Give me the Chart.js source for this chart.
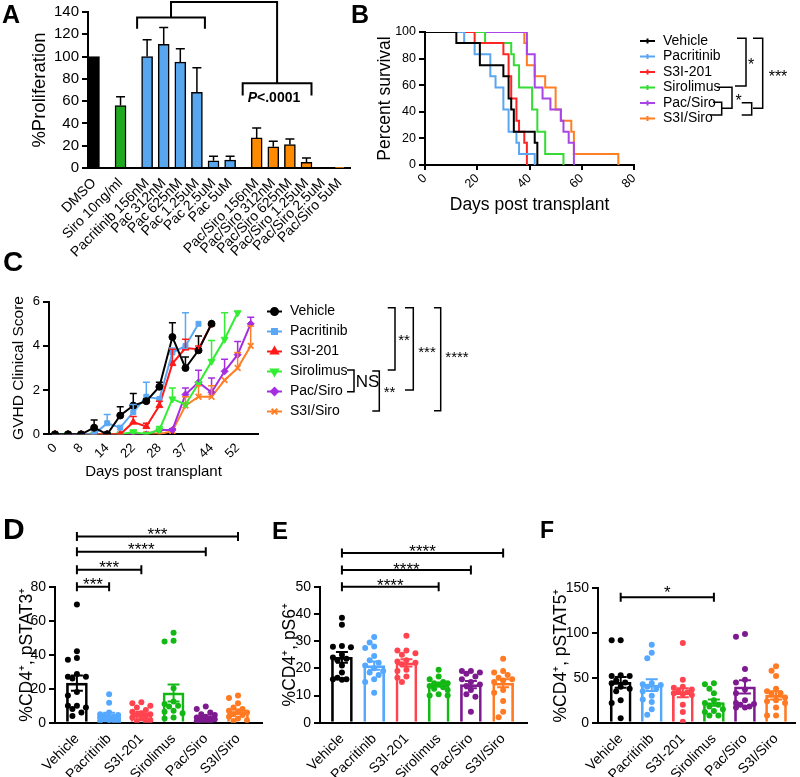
<!DOCTYPE html>
<html><head><meta charset="utf-8">
<script src="https://cdn.jsdelivr.net/npm/chart.js@4.4.1/dist/chart.umd.min.js"></script>
<style>
html,body{margin:0;padding:0;background:#fff;}
#wrap{position:relative;width:800px;height:777px;overflow:hidden;background:#fff;}
#wrap canvas{position:absolute;left:0;top:0;}
.panel-letter{position:absolute;margin:0;font-family:'Liberation Sans',Arial,sans-serif;font-weight:bold;line-height:1;color:#000;}
</style></head><body>
<div id="wrap">
<canvas id="chartA" width="800" height="777"></canvas>
<canvas id="chartB" width="800" height="777"></canvas>
<canvas id="chartC" width="800" height="777"></canvas>
<canvas id="chartD" width="800" height="777"></canvas>
<canvas id="chartE" width="800" height="777"></canvas>
<canvas id="chartF" width="800" height="777"></canvas>
<div class="panel-letter" style="left:2px;top:2px;font-size:25px">A</div>
<div class="panel-letter" style="left:351px;top:2px;font-size:25px">B</div>
<div class="panel-letter" style="left:3px;top:248px;font-size:28px">C</div>
<div class="panel-letter" style="left:3px;top:514px;font-size:30px">D</div>
<div class="panel-letter" style="left:272px;top:519px;font-size:24px">E</div>
<div class="panel-letter" style="left:540px;top:519px;font-size:23px">F</div>
</div>
<script>
// ================= DATA =================
// Panel A: in vitro proliferation
const procCategories = ['DMSO','Siro 10ng/ml','Pacritinib 156nM','Pac 312nM','Pac 625nM','Pac 1.25uM','Pac 2.5uM','Pac 5uM','Pac/Siro 156nM','Pac/Siro 312nM','Pac/Siro 625nM','Pac/Siro 1.25uM','Pac/Siro 2.5uM','Pac/Siro 5uM'];
const procGroup = [0,1,2,2,2,2,2,2,3,3,3,3,3,3];
const procMean = [100,56,100,111,95,68,6.5,7,27,19,21,5,0,0.3];
const procErr = [0,8,15,15,12,22,4,3.5,9,5,5,4,0,0];
const procGroupColors = ['#000000','#1fa91f','#58a6ee','#ff8a00'];

// Panel B: survival (Kaplan-Meier steps)
const survNames = ['Vehicle','Pacritinib','S3I-201','Sirolimus','Pac/Siro','S3I/Siro'];
const survColors = ['#000000','#5aa6f0','#ff2424','#35dc35','#a845e6','#ff7f24'];
const survVehicleDay = [0,12,21,30,32,33,34,42,43];
const survVehiclePct = [100,91.7,75,66.7,50,41.7,25,16.7,0];
const survPacDay = [0,15,19,25,27,30,32,35,36,42];
const survPacPct = [100,91.7,83.3,66.7,58.3,41.7,25,16.7,8.3,0];
const survS3IDay = [0,19,30,32,33,35,36,38,39];
const survS3IPct = [100,91.7,83.3,66.7,50,33.3,25,16.7,0];
const survSiroDay = [0,23,33,34,36,41,43,46,53];
const survSiroPct = [100,91.7,83.3,75,58.3,41.7,25,8.3,0];
const survPacSiroDay = [0,39,42,45,48,52,53,55,57];
const survPacSiroPct = [100,83.3,58.3,50,41.7,33.3,25,16.7,0];
const survS3ISiroDay = [0,38,39,42,46,50,52,56,57,74];
const survS3ISiroPct = [100,91.7,75,66.7,58.3,41.7,33.3,25,8.3,0];

// Panel C: GVHD clinical score
const gvhdDays = [0,4,8,11,14,18,22,25,28,32,37,40,44,48,52,55];
const gvhdVehicle     = [0,0,0,0.3,0,0.85,1.3,1.5,2.15,4.4,3.0,3.8,5.0];
const gvhdVehicleErr  = [0,0,0,0.35,0,0.4,0.55,0.1,0.2,0.65,0.5,0.65,0];
const gvhdPac         = [0,0,0,0,0.5,0.3,1.0,1.7,1.6,3.7,4.0,5.0];
const gvhdPacErr      = [0,0,0,0,0.4,0,0.35,0.65,0,0.2,1.5,0];
const gvhdS3I         = [0,0,0,0,0,0,0.55,0.35,1.3,3.2,3.9,3.85,5.0];
const gvhdS3IErr      = [0,0,0,0,0,0,0.25,0.15,0.2,0.65,0.4,0.15,0];
const gvhdSiro        = [0,0,0,0,0,0,0.1,0,0.2,1.6,1.35,2.3,3.3,4.3,5.5];
const gvhdSiroErr     = [0,0,0,0,0,0,0.1,0,0.15,0.5,0,0,0.95,1.2,0];
const gvhdPacSiro     = [0,0,0,0,0,0,0,0,0.2,0.2,1.8,2.35,1.9,2.85,3.6,5.0];
const gvhdPacSiroErr  = [0,0,0,0,0,0,0,0,0,0.05,0.3,0.55,0.65,0.55,0.6,0.3];
const gvhdS3ISiro     = [0,0,0,0,0,0,0,0,0,0.15,1.3,1.7,1.7,2.45,3.0,4.0];
const gvhdS3ISiroErr  = [0,0,0,0,0,0,0,0,0,0,0.4,0.5,0.5,0,0.7,0.9];
const gvhdColors = ['#000000','#5aa8f5','#ff1a1a','#33ee33','#a52ee0','#ff7f27'];

// Panels D-F: flow cytometry
const treatGroups = ['Vehicle','Pacritinib','S3I-201','Sirolimus','Pac/Siro','S3I/Siro'];
const treatColors = ['#000000','#55a8ff','#ff4450','#14b814','#7e1a90','#ff7a22'];

const stat3Mean = [23.3,4.5,5.5,17.5,3,6.5];
const stat3Sem  = [4.5,1.3,1.0,5.0,0.7,1.3];
const stat3Vehicle   = [69.6,42,38,37,28.6,27,27,26,18,16,10,10,9,8,6,4];
const stat3Pac       = [16.7,11.8,6,5,4.5,4,3.5,3,3,2.5,2,1.5,1.5,1,0.5];
const stat3S3I       = [12,11.5,10,9,7.5,6.5,5.5,5,4.5,3.5,3,2.5,1.5,1,0.5];
const stat3Siro      = [52.9,48.2,47.8,20.2,12.5,11,10,9.5,7,6.5,5.5,3,2.5];
const stat3PacSiro   = [9.5,8,6,5,4.5,3.5,3,2.5,2,2,1.5,1,0.5,0.5];
const stat3S3ISiro   = [16,14.5,11.5,9,8,7,6.5,6,5,4.5,3.5,2.5,1.5,1];

const s6Mean = [24,21,22,14,14,14.5];
const s6Sem  = [2,1.5,1.3,0.7,1.3,1.5];
const s6Vehicle  = [38.6,36,28.2,27.9,27.7,25,24,23.5,23,21,18.5,16.5,16,16,15.8];
const s6Pac      = [31.5,29.5,28,27.5,24.5,23,22,21,20,19,18.5,17.5,16,15,11];
const s6S3I      = [32,26.5,26.5,25.5,25,23,22.5,22,21.5,19.5,19,17,16.5,15];
const s6Siro     = [19.5,17,16,15,14.5,14.5,14,13.5,13,12.5,12,10.5,10,10];
const s6PacSiro  = [19,19,18.5,18,17,16,15,14,13.5,12,10.5,9.5,4];
const s6S3ISiro  = [23.5,19,18.5,17.5,16.5,16,15.5,15,12,11,8,4,2];

const stat5Mean = [45,42,33.5,22.5,40,30.5];
const stat5Sem  = [6,6.5,5,3.5,7.5,4.5];
const stat5Vehicle  = [92,92,53,52,52,47,45,44,40,38,35,25,22,5];
const stat5Pac      = [87,78,72,44,43,42,40,38,35,30,26,23,15,9];
const stat5S3I      = [89,48,40,39,37,35,34,33,32,31,20,12,1];
const stat5Siro     = [44,43,38,33,25,22,20,18,15,13,12,8,8];
const stat5PacSiro  = [99,96,60,48,45,37,33,25,22,21,20,18,17,17];
const stat5S3ISiro  = [63,58,52,38,35,33,32,28,25,24,22,17,8,8];

// ================= SETUP =================
const FONT = "'Liberation Sans', Arial, sans-serif";
Chart.defaults.font.family = FONT;
Chart.defaults.color = '#000';
Chart.defaults.animation = false;
Chart.defaults.events = [];
Chart.defaults.plugins.legend.display = false;
Chart.defaults.plugins.tooltip.enabled = false;

function frame(area, yTitleX, yTitleSize, xTitleY, xTitleSize, xAxisH) {
  const yLeft = yTitleX - 4 - yTitleSize * 1.2 / 2;
  const xBottom = (xTitleY != null) ? xTitleY + 4 + xTitleSize * 1.2 / 2 : area.b + xAxisH;
  return {
    padding: {left: yLeft, top: area.t, right: 800 - area.r, bottom: 777 - xBottom},
    yWidth: area.l - yLeft,
    xHeight: xBottom - area.b
  };
}
function yAxis(fr, o) {
  return {
    type: 'linear', position: 'left', min: o.min, max: o.max,
    ticks: {stepSize: o.step, font: {size: o.tick}, color: '#000', padding: 3},
    grid: {display: true, drawOnChartArea: false, drawTicks: true, tickLength: 6, color: '#000', lineWidth: 2},
    border: {display: true, color: '#000', width: 2},
    title: {display: true, text: o.title, font: {size: o.titleSize}, color: '#000', padding: {top: 4, bottom: 4}},
    afterFit(s) { s.width = fr.yWidth; }
  };
}
function xAxis(fr, o) {
  const ax = {
    type: 'linear', position: 'bottom', min: o.min, max: o.max, offset: false,
    ticks: {autoSkip: false, minRotation: 45, maxRotation: 45, font: {size: o.tick}, color: '#000', padding: o.pad != null ? o.pad : 2},
    grid: {display: !!o.marks, drawOnChartArea: false, drawTicks: true, tickLength: 5, color: '#000', lineWidth: 2, offset: false},
    border: {display: true, color: '#000', width: 2},
    title: {display: !!o.title, text: o.title || '', font: {size: o.titleSize || 15}, color: '#000', padding: {top: 4, bottom: 4}},
    afterFit(s) { s.height = fr.xHeight; }
  };
  if (o.step) ax.ticks.stepSize = o.step;
  if (o.label) ax.ticks.callback = o.label;
  if (o.tickValues) ax.afterBuildTicks = (s) => { s.ticks = o.tickValues.map(v => ({value: v})); };
  return ax;
}
function starText(ctx, text, x, baseline, size) {
  ctx.font = size + 'px ' + FONT;
  ctx.textAlign = 'center';
  ctx.textBaseline = 'alphabetic';
  ctx.fillText(text, x, baseline);
}
function polyline(ctx, pts) {
  ctx.beginPath();
  ctx.moveTo(pts[0][0], pts[0][1]);
  for (let i = 1; i < pts.length; i++) ctx.lineTo(pts[i][0], pts[i][1]);
  ctx.stroke();
}

// ================= PANEL A =================
(function () {
  const fr = frame({l: 88, t: 11, r: 350, b: 168}, 40, 18.5, null, 0, 95);
  const procPos = procCategories.map((_, i) => i + procGroup[i] * 0.6);
  const plugin = {
    id: 'procExtras',
    afterDatasetsDraw(chart) {
      const {ctx} = chart, x = chart.scales.x, y = chart.scales.y;
      ctx.save();
      ctx.strokeStyle = '#000'; ctx.fillStyle = '#000'; ctx.lineWidth = 1.5;
      procMean.forEach((m, i) => {
        const e = procErr[i]; if (!e) return;
        const px = x.getPixelForValue(procPos[i]);
        const y0 = y.getPixelForValue(m), y1 = y.getPixelForValue(m + e);
        ctx.beginPath(); ctx.moveTo(px, y0); ctx.lineTo(px, y1);
        ctx.moveTo(px - 4.5, y1); ctx.lineTo(px + 4.5, y1); ctx.stroke();
      });
      ctx.lineWidth = 2;
      const lx1 = x.getPixelForValue(procPos[2]) - 10, lx2 = x.getPixelForValue(procPos[5]) + 8;
      const rx1 = x.getPixelForValue(procPos[8]) - 14, rx2 = x.getPixelForValue(procPos[11]) + 5;
      const yTopL = y.getPixelForValue(135), yLegL = y.getPixelForValue(125);
      const yTop = y.getPixelForValue(149);
      const yTopR = y.getPixelForValue(76), yLegR = y.getPixelForValue(65);
      const lm = (lx1 + lx2) / 2, rm = (rx1 + rx2) / 2;
      polyline(ctx, [[lx1, yLegL], [lx1, yTopL], [lx2, yTopL], [lx2, yLegL]]);
      polyline(ctx, [[rx1, yLegR], [rx1, yTopR], [rx2, yTopR], [rx2, yLegR]]);
      polyline(ctx, [[lm, yTopL], [lm, yTop], [rm, yTop], [rm, yTopR]]);
      const ty = y.getPixelForValue(59);
      ctx.textAlign = 'left'; ctx.textBaseline = 'alphabetic';
      ctx.font = 'italic bold 14px ' + FONT;
      ctx.fillText('P', rx1 + 5, ty);
      const w = ctx.measureText('P').width;
      ctx.font = 'bold 14px ' + FONT;
      ctx.fillText('<.0001', rx1 + 5 + w, ty);
      ctx.restore();
    }
  };
  new Chart(document.getElementById('chartA'), {
    type: 'bar',
    data: {datasets: [{
      data: procPos.map((p, i) => ({x: p, y: procMean[i]})),
      backgroundColor: procGroup.map(g => procGroupColors[g]),
      borderColor: '#000', borderWidth: 1.5, barThickness: 11, borderSkipped: 'start'
    }]},
    options: {
      responsive: false, devicePixelRatio: 1,
      layout: {padding: fr.padding},
      scales: {
        x: xAxis(fr, {min: -0.36, max: 15.42, tick: 14, tickValues: procPos, label: (v, i) => procCategories[i], pad: 2}),
        y: yAxis(fr, {min: 0, max: 140, step: 20, tick: 15, title: '%Proliferation', titleSize: 18.5})
      }
    },
    plugins: [plugin]
  });
})();

// ================= PANEL B =================
(function () {
  const fr = frame({l: 425, t: 32, r: 634, b: 165}, 385, 17.5, 205, 17.5);
  const dayArrays = [survVehicleDay, survPacDay, survS3IDay, survSiroDay, survPacSiroDay, survS3ISiroDay];
  const pctArrays = [survVehiclePct, survPacPct, survS3IPct, survSiroPct, survPacSiroPct, survS3ISiroPct];
  const datasets = survNames.map((n, k) => ({
    label: n,
    data: dayArrays[k].map((d, i) => ({x: d, y: pctArrays[k][i]})),
    borderColor: survColors[k], borderWidth: 2, pointRadius: 0, stepped: true, fill: false
  }));
  const plugin = {
    id: 'survLegend',
    afterDraw(chart) {
      const {ctx} = chart;
      ctx.save();
      survNames.forEach((n, i) => {
        const yy = 41 + 15.5 * i;
        ctx.strokeStyle = survColors[i]; ctx.lineWidth = 2;
        ctx.beginPath(); ctx.moveTo(640, yy); ctx.lineTo(655, yy);
        ctx.moveTo(647.5, yy - 2.5); ctx.lineTo(647.5, yy + 2.5); ctx.stroke();
        ctx.fillStyle = '#000'; ctx.font = '14px ' + FONT; ctx.textAlign = 'left'; ctx.textBaseline = 'middle';
        ctx.fillText(n, 663, yy);
      });
      ctx.strokeStyle = '#000'; ctx.lineWidth = 1.5; ctx.fillStyle = '#000';
      polyline(ctx, [[737, 38.3], [746, 38.3], [746, 86], [735, 86]]);
      polyline(ctx, [[753, 38.3], [762.7, 38.3], [762.7, 108.3], [753, 108.3]]);
      polyline(ctx, [[717, 87.3], [732, 87.3], [732, 108.3], [721.7, 108.3]]);
      polyline(ctx, [[713, 102.3], [721.7, 102.3], [721.7, 115], [710, 115]]);
      polyline(ctx, [[741.7, 102.7], [751.7, 102.7], [751.7, 115], [741.7, 115]]);
      starText(ctx, '*', 751, 69.5, 16);
      starText(ctx, '***', 778, 82, 16);
      starText(ctx, '*', 738.5, 106, 16);
      ctx.restore();
    }
  };
  new Chart(document.getElementById('chartB'), {
    type: 'line',
    data: {datasets},
    options: {
      responsive: false, devicePixelRatio: 1,
      layout: {padding: fr.padding},
      scales: {
        x: xAxis(fr, {min: 0, max: 80, step: 20, tick: 12.5, title: 'Days post transplant', titleSize: 17.5, marks: true, pad: 1}),
        y: yAxis(fr, {min: 0, max: 100, step: 20, tick: 12.5, title: 'Percent survival', titleSize: 17.5})
      }
    },
    plugins: [plugin]
  });
})();

// ================= PANEL C =================
(function () {
  const fr = frame({l: 49, t: 301.7, r: 258, b: 434.3}, 19, 15.5, 471.7, 15);
  const vals = [gvhdVehicle, gvhdPac, gvhdS3I, gvhdSiro, gvhdPacSiro, gvhdS3ISiro];
  const errs = [gvhdVehicleErr, gvhdPacErr, gvhdS3IErr, gvhdSiroErr, gvhdPacSiroErr, gvhdS3ISiroErr];
  const styles = ['circle', 'rect', 'triangle', 'triangle', 'rectRot', 'crossRot'];
  const rots = [0, 0, 0, 180, 0, 0];
  const radii = [3.5, 3.5, 4, 4, 3.5, 4];
  const datasets = survNames.map((n, k) => ({
    label: n,
    data: vals[k].map((v, i) => ({x: i, y: v})),
    borderColor: gvhdColors[k], backgroundColor: gvhdColors[k], borderWidth: 2,
    pointStyle: styles[k], pointRotation: rots[k], pointRadius: radii[k],
    pointBackgroundColor: gvhdColors[k], pointBorderColor: gvhdColors[k], pointBorderWidth: k === 5 ? 1.8 : 1
  }));
  const evenIdx = gvhdDays.map((_, i) => i).filter(i => i % 2 === 0);
  const plugin = {
    id: 'gvhdExtras',
    afterDatasetsDraw(chart) {
      const {ctx} = chart, x = chart.scales.x, y = chart.scales.y;
      ctx.save();
      vals.forEach((arr, k) => {
        ctx.strokeStyle = gvhdColors[k]; ctx.lineWidth = 1.5;
        arr.forEach((v, i) => {
          const e = errs[k][i]; if (!e) return;
          const px = x.getPixelForValue(i), y0 = y.getPixelForValue(v), y1 = y.getPixelForValue(v + e);
          ctx.beginPath(); ctx.moveTo(px, y0); ctx.lineTo(px, y1);
          ctx.moveTo(px - 3.5, y1); ctx.lineTo(px + 3.5, y1); ctx.stroke();
        });
      });
      ctx.restore();
    },
    afterDraw(chart) {
      const {ctx} = chart;
      ctx.save();
      survNames.forEach((n, i) => {
        const yy = 311.5 + 20 * i;
        ctx.strokeStyle = gvhdColors[i]; ctx.lineWidth = 2;
        ctx.beginPath(); ctx.moveTo(267, yy); ctx.lineTo(282, yy); ctx.stroke();
        ctx.fillStyle = gvhdColors[i];
        Chart.helpers.drawPoint(ctx, {pointStyle: styles[i], rotation: rots[i], radius: radii[i], borderWidth: i === 5 ? 1.8 : 1}, 274.5, yy);
        ctx.fillStyle = '#000'; ctx.font = '14px ' + FONT; ctx.textAlign = 'left'; ctx.textBaseline = 'middle';
        ctx.fillText(n, 290, yy);
      });
      ctx.strokeStyle = '#000'; ctx.lineWidth = 1.5; ctx.fillStyle = '#000';
      polyline(ctx, [[387.7, 307.7], [395, 307.7], [395, 370], [387.7, 370]]);
      polyline(ctx, [[405, 307.7], [413.3, 307.7], [413.3, 390], [405, 390]]);
      polyline(ctx, [[434, 307.7], [440.7, 307.7], [440.7, 410.7], [434, 410.7]]);
      polyline(ctx, [[347, 370], [354, 370], [354, 391.7], [347, 391.7]]);
      polyline(ctx, [[372.3, 371], [379.3, 371], [379.3, 411], [372.3, 411]]);
      starText(ctx, '**', 404, 345, 15);
      starText(ctx, '***', 427, 357, 15);
      starText(ctx, '****', 457, 362, 15);
      starText(ctx, '**', 389.5, 397, 15);
      ctx.font = '17px ' + FONT; ctx.textAlign = 'center'; ctx.textBaseline = 'middle';
      ctx.fillText('NS', 367.5, 382);
      ctx.restore();
    }
  };
  new Chart(document.getElementById('chartC'), {
    type: 'line',
    data: {datasets},
    options: {
      responsive: false, devicePixelRatio: 1,
      layout: {padding: fr.padding},
      scales: {
        x: xAxis(fr, {min: -0.46, max: 15.56, tick: 13, tickValues: evenIdx, label: (v) => String(gvhdDays[v]), title: 'Days post transplant', titleSize: 15, pad: 1}),
        y: yAxis(fr, {min: 0, max: 6, step: 2, tick: 13, title: 'GVHD Clinical Score', titleSize: 15.5})
      }
    },
    plugins: [plugin]
  });
})();

// ================= PANELS D-F =================
function swarmOffsets(values, pxPerY, step, minDist) {
  const order = values.map((_, i) => i).sort((a, b) => values[b] - values[a]);
  const placed = [];
  const out = new Array(values.length).fill(0);
  const tries = [0, -1, 1, -2, 2];
  for (const i of order) {
    const yp = values[i] * pxPerY;
    let best = 0, bestD = -1;
    for (const k of tries) {
      const xp = k * step;
      const d = placed.reduce((m, p) => Math.min(m, Math.hypot(p.x - xp, p.y - yp)), Infinity);
      if (d >= minDist) { best = xp; bestD = Infinity; break; }
      if (d > bestD) { bestD = d; best = xp; }
    }
    out[i] = best;
    placed.push({x: best, y: yp});
  }
  return out;
}
function dotPanel(id, o) {
  const fr = frame(o.area, o.yTitleX, 17.5, null, 0, 777 - o.area.b);
  const pxX = (o.area.r - o.area.l) / (o.xMax - o.xMin);
  const pxY = (o.area.b - o.area.t) / (o.yMax - 0);
  const datasets = [{
    type: 'bar', order: 2,
    data: treatGroups.map((g, i) => ({x: i, y: o.means[i]})),
    backgroundColor: 'rgba(255,255,255,0)', borderColor: treatColors, borderWidth: 2,
    barThickness: 21, borderSkipped: 'start'
  }];
  o.dots.forEach((vals, g) => {
    const off = swarmOffsets(vals, pxY, 4.5, 6);
    datasets.push({
      type: 'scatter', order: 1,
      data: vals.map((v, k) => ({x: g + off[k] / pxX, y: v})),
      pointRadius: 3, pointBackgroundColor: treatColors[g], pointBorderWidth: 0, showLine: false
    });
  });
  const plugin = {
    id: 'dotExtras',
    afterDatasetsDraw(chart) {
      const {ctx} = chart, x = chart.scales.x, y = chart.scales.y;
      ctx.save();
      o.means.forEach((m, g) => {
        const px = x.getPixelForValue(g), y1 = y.getPixelForValue(m + o.sems[g]), y2 = y.getPixelForValue(m - o.sems[g]);
        ctx.strokeStyle = treatColors[g]; ctx.lineWidth = 2;
        ctx.beginPath(); ctx.moveTo(px, y1); ctx.lineTo(px, y2);
        ctx.moveTo(px - 6, y1); ctx.lineTo(px + 6, y1);
        ctx.moveTo(px - 6, y2); ctx.lineTo(px + 6, y2); ctx.stroke();
      });
      ctx.strokeStyle = '#000'; ctx.fillStyle = '#000'; ctx.lineWidth = 2;
      o.brackets.forEach(b => {
        const x1 = x.getPixelForValue(b[0]), x2 = x.getPixelForValue(b[1]), yy = y.getPixelForValue(b[2]);
        ctx.beginPath(); ctx.moveTo(x1, yy); ctx.lineTo(x2, yy);
        ctx.moveTo(x1, yy - 4.5); ctx.lineTo(x1, yy + 4.5);
        ctx.moveTo(x2, yy - 4.5); ctx.lineTo(x2, yy + 4.5); ctx.stroke();
        starText(ctx, b[3], (x1 + x2) / 2, yy + o.starDy, o.starSize);
      });
      ctx.restore();
    }
  };
  new Chart(document.getElementById(id), {
    type: 'bar',
    data: {datasets},
    options: {
      responsive: false, devicePixelRatio: 1,
      layout: {padding: fr.padding},
      scales: {
        x: xAxis(fr, {min: o.xMin, max: o.xMax, tick: 14, tickValues: treatGroups.map((_, i) => i), label: (v, i) => treatGroups[i], pad: 3}),
        y: yAxis(fr, {min: 0, max: o.yMax, step: o.yStep, tick: 14, title: o.yTitle, titleSize: 17.5})
      }
    },
    plugins: [plugin]
  });
}

dotPanel('chartD', {
  area: {l: 55, t: 586.7, r: 262, b: 722.7}, yTitleX: 27, yMax: 80, yStep: 20, xMin: -0.68, xMax: 5.745,
  yTitle: '%CD4\u207A, pSTAT3\u207A', means: stat3Mean, sems: stat3Sem,
  dots: [stat3Vehicle, stat3Pac, stat3S3I, stat3Siro, stat3PacSiro, stat3S3ISiro],
  brackets: [[0, 1, 80, '***'], [0, 2, 90, '***'], [0, 4, 100.5, '****'], [0, 5, 109.5, '***']],
  starDy: 3, starSize: 17
});
dotPanel('chartE', {
  area: {l: 320, t: 586.7, r: 527, b: 722.7}, yTitleX: 290, yMax: 50, yStep: 10, xMin: -0.68, xMax: 5.74,
  yTitle: '%CD4\u207A, pS6\u207A', means: s6Mean, sems: s6Sem,
  dots: [s6Vehicle, s6Pac, s6S3I, s6Siro, s6PacSiro, s6S3ISiro],
  brackets: [[0, 3, 50, '****'], [0, 4, 56.1, '****'], [0, 5, 62.4, '****']],
  starDy: 4.5, starSize: 17
});
dotPanel('chartF', {
  area: {l: 598, t: 588.3, r: 795, b: 722.7}, yTitleX: 561, yMax: 150, yStep: 50, xMin: -0.73, xMax: 5.61,
  yTitle: '%CD4\u207A, pSTAT5\u207A', means: stat5Mean, sems: stat5Sem,
  dots: [stat5Vehicle, stat5Pac, stat5S3I, stat5Siro, stat5PacSiro, stat5S3ISiro],
  brackets: [[0, 3, 140, '*']],
  starDy: 1, starSize: 17
});
</script>
</body></html>
